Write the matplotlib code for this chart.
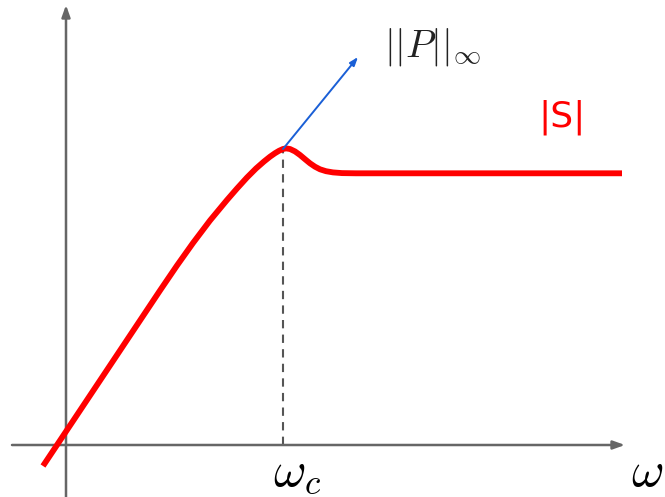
import matplotlib.pyplot as plt

plt.rcParams["mathtext.fontset"] = "cm"

# |S| curve, origin at the axes crossing
curva_x = [-23, 74, 94, 111, 127, 144, 161, 171, 181, 190, 198, 204, 209,
           213, 217, 220, 224, 229, 234, 239, 244, 249, 254, 260, 267, 276,
           290, 556]
curva_y = [-21, 124.5, 154.5, 179.5, 202, 224.5, 245, 256.5, 267.5, 276.5,
           283.5, 288.3, 291.8, 294.2, 296, 296.6, 296, 293.6, 290, 285.8,
           281.7, 278.3, 275.7, 273.8, 272.6, 271.9, 271.7, 271.7]

# peak of |S| and the end of the ||P|| arrow
pico_x = 217
pico_y = 296
flecha_fin = (292, 388)

fig = plt.figure(figsize=(6.65, 4.97), dpi=100)
ax = fig.add_axes([0, 0, 1, 1])
ax.set_xlim(-66, 599)
ax.set_ylim(-52, 445)
ax.axis("off")

gris = "#666666"

# ejes con flecha
ax.annotate("", xy=(559, 0), xytext=(-54, 0),
            arrowprops=dict(arrowstyle="-|>,head_length=0.7,head_width=0.25",
                            color=gris, lw=1.8, shrinkA=0, shrinkB=0))
ax.annotate("", xy=(0, 440), xytext=(0, -52),
            arrowprops=dict(arrowstyle="-|>,head_length=0.7,head_width=0.25",
                            color=gris, lw=1.8, shrinkA=0, shrinkB=0))

# linea punteada en w_c
ax.plot([pico_x, pico_x], [0, pico_y], color="#555555", lw=1.5,
        ls=(0, (4, 3)), zorder=2)

# curva |S|
ax.plot(curva_x, curva_y, color="red", lw=4.2, solid_capstyle="butt",
        solid_joinstyle="round", zorder=3)

# flecha azul
ax.annotate("", xy=flecha_fin, xytext=(pico_x, pico_y),
            arrowprops=dict(arrowstyle="-|>,head_length=0.5,head_width=0.18",
                            color="#1a5fd6", lw=1.4, shrinkA=0, shrinkB=0),
            zorder=4)

# textos
ax.text(367, 398, r"$||P||_\infty$", fontsize=28, ha="center", va="center",
        color="#222222")
ax.text(496, 328, "|S|", fontsize=26, ha="center", va="center", color="red")
ax.text(231, -27, r"$\omega_c$", fontsize=36, ha="center", va="center")
ax.text(565, -27, r"$\omega$", fontsize=36, ha="left", va="center")

fig.savefig("out.png", dpi=100)
